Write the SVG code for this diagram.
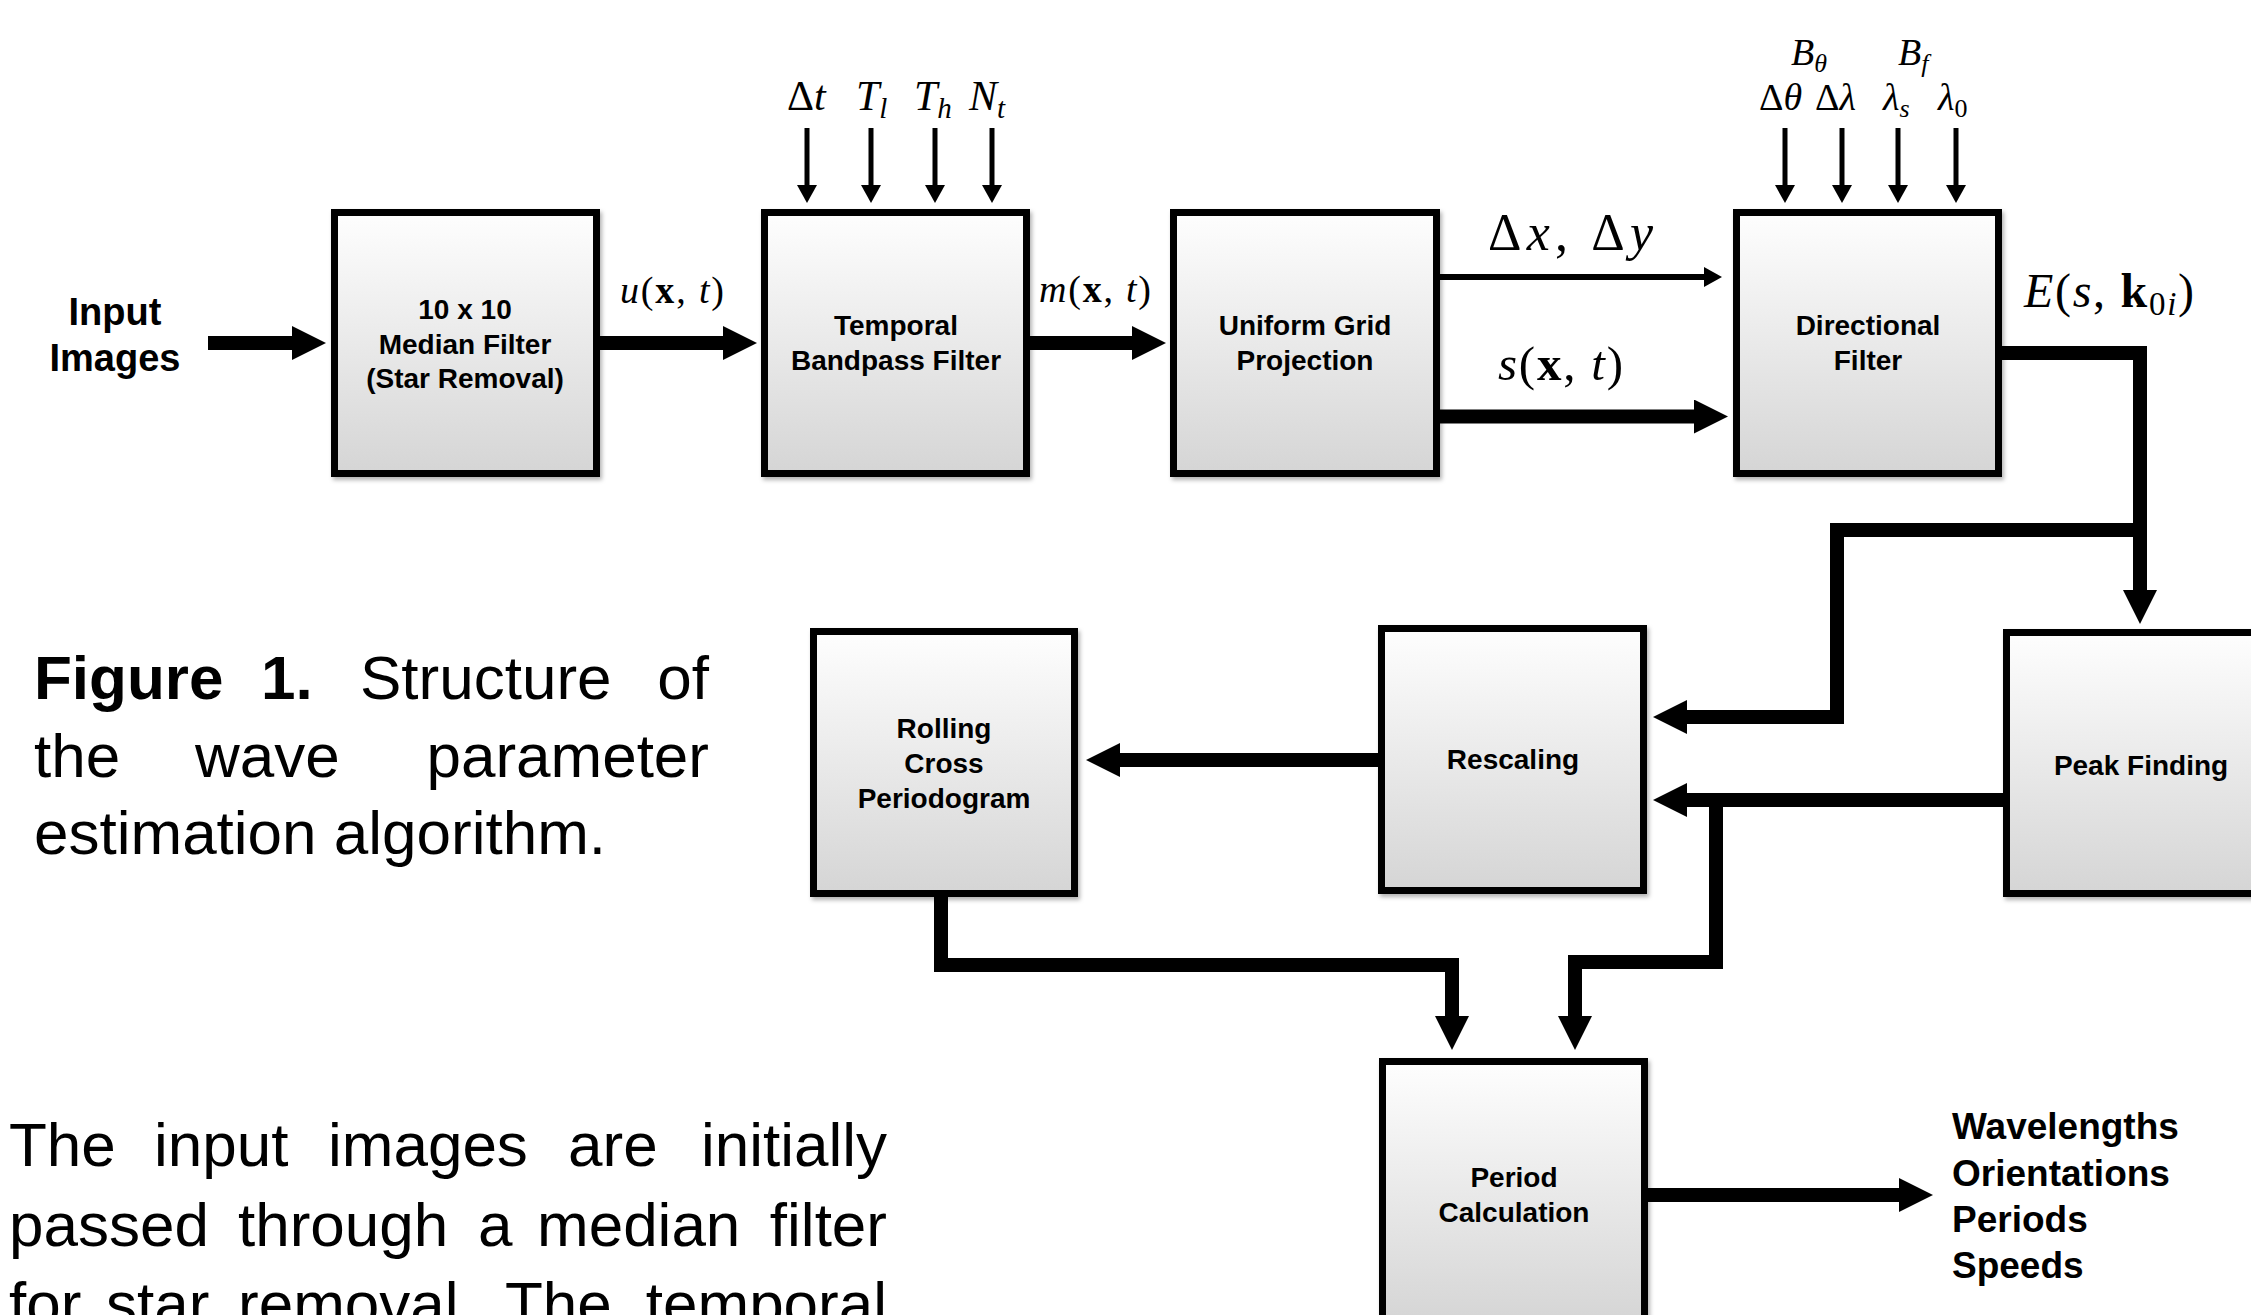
<svg xmlns="http://www.w3.org/2000/svg" width="2251" height="1315" viewBox="0 0 2251 1315">
<style>
.box{fill:url(#g);stroke:#000;stroke-width:7;filter:url(#sh)}
.bt{font-family:"Liberation Sans",Arial,sans-serif;font-weight:bold;font-size:28px;text-anchor:middle;fill:#000}
.out{font-family:"Liberation Sans",Arial,sans-serif;font-weight:bold;font-size:37px;fill:#000}
.cap{font-family:"Liberation Sans",Arial,sans-serif;font-size:62px;fill:#000}
.m{font-family:"Liberation Serif","Times New Roman",serif;fill:#000}
.i{font-style:italic}
.b{font-weight:bold}
.thick{fill:none;stroke:#000;stroke-width:14;stroke-linejoin:miter;marker-end:url(#hk)}
.thin{fill:none;stroke:#000;stroke-width:6;marker-end:url(#hn)}
.par{fill:none;stroke:#000;stroke-width:5;marker-end:url(#hp)}
</style>
<defs>
<linearGradient id="g" x1="0" y1="0" x2="0" y2="1">
<stop offset="0" stop-color="#fefefe"/>
<stop offset="1" stop-color="#d5d5d5"/>
</linearGradient>
<filter id="sh" x="-5%" y="-5%" width="115%" height="115%">
<feDropShadow dx="2" dy="3" stdDeviation="2" flood-color="#000" flood-opacity="0.3"/>
</filter>
<marker id="hk" markerUnits="userSpaceOnUse" viewBox="0 0 34 34" markerWidth="34" markerHeight="34" refX="0" refY="17" orient="auto">
<path d="M0,0 L34,17 L0,34 Z" fill="#000"/>
</marker>
<marker id="hn" markerUnits="userSpaceOnUse" viewBox="0 0 18 20" markerWidth="18" markerHeight="20" refX="0" refY="10" orient="auto">
<path d="M0,0 L18,10 L0,20 Z" fill="#000"/>
</marker>
<marker id="hp" markerUnits="userSpaceOnUse" viewBox="0 0 18 20" markerWidth="18" markerHeight="20" refX="0" refY="10" orient="auto">
<path d="M0,0 L18,10 L0,20 Z" fill="#000"/>
</marker>
</defs>
<rect width="2251" height="1315" fill="#fff"/>

<g id="connectors">
<path class="thick" d="M208,343 H292"/>
<path class="thick" d="M600,343 H723"/>
<path class="thick" d="M1030,343 H1132"/>
<path class="thin" d="M1440,277 H1704"/>
<path class="thick" d="M1440,416.5 H1694"/>
<path class="thick" d="M2002,353 H2140 V590"/>
<path class="thick" d="M2147,530 H1837 V717 H1687"/>
<path class="thick" d="M1378,760 H1120"/>
<path class="thick" d="M2003,800 H1687"/>
<path class="thick" d="M1716,793 V962 H1575 V1016"/>
<path class="thick" d="M941,897 V965 H1452 V1016"/>
<path class="thick" d="M1648,1195 H1899"/>
<path class="par" d="M807,128 V185"/>
<path class="par" d="M871,128 V185"/>
<path class="par" d="M935,128 V185"/>
<path class="par" d="M992,128 V185"/>
<path class="par" d="M1785,128 V185"/>
<path class="par" d="M1842,128 V185"/>
<path class="par" d="M1898,128 V185"/>
<path class="par" d="M1956,128 V185"/>
</g>

<g id="input">
<text class="bt" style="font-size:38px" x="115" y="325">Input</text>
<text class="bt" style="font-size:38px" x="115" y="371">Images</text>
</g>

<g id="median">
<rect class="box" x="334.5" y="212.5" width="262" height="261"/>
<text class="bt" x="465" y="319">10 x 10</text>
<text class="bt" x="465" y="354">Median Filter</text>
<text class="bt" x="465" y="388">(Star Removal)</text>
</g>

<g id="temporal">
<rect class="box" x="764.5" y="212.5" width="262" height="261"/>
<text class="bt" x="896" y="335">Temporal</text>
<text class="bt" x="896" y="370">Bandpass Filter</text>
</g>

<g id="uniform">
<rect class="box" x="1173.5" y="212.5" width="263" height="261"/>
<text class="bt" x="1305" y="335">Uniform Grid</text>
<text class="bt" x="1305" y="370">Projection</text>
</g>

<g id="directional">
<rect class="box" x="1736.5" y="212.5" width="262" height="261"/>
<text class="bt" x="1868" y="335">Directional</text>
<text class="bt" x="1868" y="370">Filter</text>
</g>

<g id="peak">
<rect class="box" x="2006.5" y="632.5" width="262" height="261"/>
<text class="bt" x="2141" y="775">Peak Finding</text>
</g>

<g id="rescaling">
<rect class="box" x="1381.5" y="628.5" width="262" height="262"/>
<text class="bt" x="1513" y="769">Rescaling</text>
</g>

<g id="rolling">
<rect class="box" x="813.5" y="631.5" width="261" height="262"/>
<text class="bt" x="944" y="738">Rolling</text>
<text class="bt" x="944" y="773">Cross</text>
<text class="bt" x="944" y="808">Periodogram</text>
</g>

<g id="period">
<rect class="box" x="1382.5" y="1061.5" width="262" height="261"/>
<text class="bt" x="1514" y="1187">Period</text>
<text class="bt" x="1514" y="1222">Calculation</text>
</g>

<g id="outputs">
<text class="out" x="1952" y="1139">Wavelengths</text>
<text class="out" x="1952" y="1186">Orientations</text>
<text class="out" x="1952" y="1232">Periods</text>
<text class="out" x="1952" y="1278">Speeds</text>
</g>

<g id="labels">
<text class="m" x="620" y="303" font-size="38" textLength="104" lengthAdjust="spacing"><tspan class="i">u</tspan>(<tspan class="b">x</tspan>, <tspan class="i">t</tspan>)</text>
<text class="m" x="1039" y="302" font-size="38" textLength="112" lengthAdjust="spacing"><tspan class="i">m</tspan>(<tspan class="b">x</tspan>, <tspan class="i">t</tspan>)</text>
<text class="m" x="1488" y="250" font-size="52" textLength="165" lengthAdjust="spacing">Δ<tspan class="i">x</tspan>, Δ<tspan class="i">y</tspan></text>
<text class="m" x="1498" y="380" font-size="49" textLength="125" lengthAdjust="spacing"><tspan class="i">s</tspan>(<tspan class="b">x</tspan>, <tspan class="i">t</tspan>)</text>
<text class="m" x="2024" y="307" font-size="48" textLength="170" lengthAdjust="spacing"><tspan class="i">E</tspan>(<tspan class="i">s</tspan>, <tspan class="b">k</tspan><tspan font-size="33" dy="8">0<tspan class="i">i</tspan></tspan><tspan dy="-8">)</tspan></text>
<text class="m" x="787" y="110" font-size="42">Δ<tspan class="i">t</tspan></text>
<text class="m i" x="856" y="110" font-size="42">T<tspan font-size="29" dy="8">l</tspan></text>
<text class="m i" x="914" y="110" font-size="42">T<tspan font-size="29" dy="8">h</tspan></text>
<text class="m i" x="969" y="110" font-size="42">N<tspan font-size="29" dy="8">t</tspan></text>
<text class="m i" x="1791" y="65" font-size="38">B<tspan font-size="26" dy="7">θ</tspan></text>
<text class="m i" x="1898" y="65" font-size="38">B<tspan font-size="26" dy="7">f</tspan></text>
<text class="m" x="1759" y="110" font-size="38">Δ<tspan class="i">θ</tspan></text>
<text class="m" x="1815" y="110" font-size="38">Δ<tspan class="i">λ</tspan></text>
<text class="m i" x="1883" y="110" font-size="38">λ<tspan font-size="26" dy="7">s</tspan></text>
<text class="m" x="1938" y="110" font-size="38"><tspan class="i">λ</tspan><tspan font-size="26" dy="7">0</tspan></text>
</g>

<g id="caption">
<text class="cap" y="699"><tspan x="34" font-weight="bold">Figure</tspan><tspan x="261" font-weight="bold">1.</tspan><tspan x="360">Structure</tspan></text>
<text class="cap" x="709" y="699" text-anchor="end">of</text>
<text class="cap" y="777"><tspan x="34">the</tspan><tspan x="195">wave</tspan></text>
<text class="cap" x="709" y="777" text-anchor="end">parameter</text>
<text class="cap" x="34" y="854">estimation algorithm.</text>
</g>

<g id="body">
<text class="cap" y="1166"><tspan x="9">The</tspan><tspan x="154">input</tspan><tspan x="328">images</tspan><tspan x="568">are</tspan></text>
<text class="cap" x="887" y="1166" text-anchor="end">initially</text>
<text class="cap" y="1246"><tspan x="9">passed</tspan><tspan x="238">through</tspan><tspan x="478">a</tspan><tspan x="537">median</tspan></text>
<text class="cap" x="887" y="1246" text-anchor="end">filter</text>
<text class="cap" y="1325"><tspan x="9">for</tspan><tspan x="106">star</tspan><tspan x="238">removal.</tspan><tspan x="505">The</tspan></text>
<text class="cap" x="887" y="1325" text-anchor="end">temporal</text>
</g>
</svg>
